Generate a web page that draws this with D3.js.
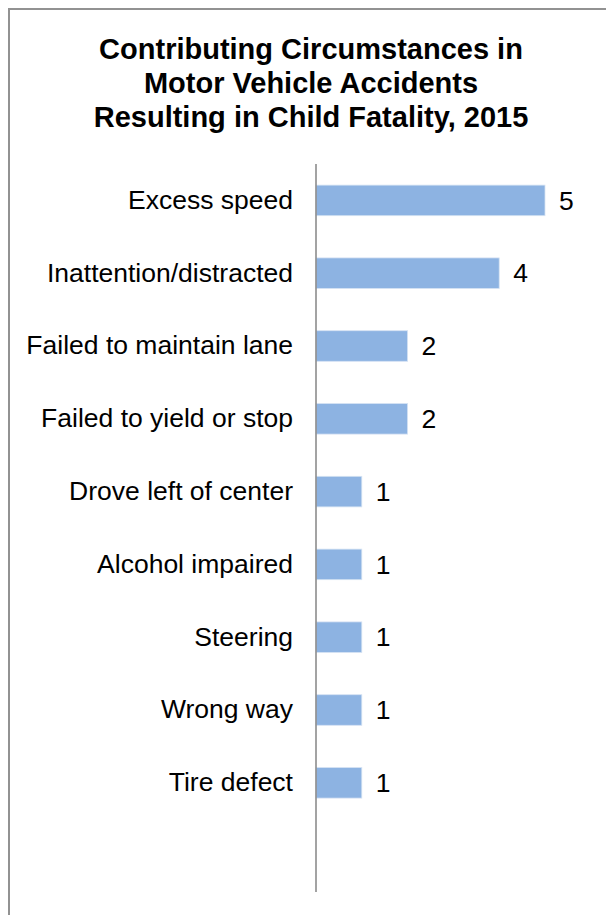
<!DOCTYPE html>
<html>
<head>
<meta charset="utf-8">
<script src="https://cdn.jsdelivr.net/npm/d3@7"></script>
<style>
  html, body { margin: 0; padding: 0; background: #fff; }
  svg { display: block; font-family: "Liberation Sans", Arial, sans-serif; }
</style>
</head>
<body>
<div id="chart"></div>
<script>
// Contributing circumstances and counts of child fatalities, 2015
const categories = [
  "Excess speed",
  "Inattention/distracted",
  "Failed to maintain lane",
  "Failed to yield or stop",
  "Drove left of center",
  "Alcohol impaired",
  "Steering",
  "Wrong way",
  "Tire defect"
];
const counts = [5, 4, 2, 2, 1, 1, 1, 1, 1];
const titleLines = [
  "Contributing Circumstances in",
  "Motor Vehicle Accidents",
  "Resulting in Child Fatality, 2015"
];

const W = 606, H = 915;
const svg = d3.select("#chart").append("svg")
  .attr("width", W).attr("height", H);

// chart frame (right and bottom edges run past the visible area)
svg.append("rect")
  .attr("x", 9).attr("y", 9)
  .attr("width", 640).attr("height", 940)
  .attr("fill", "#fff")
  .attr("stroke", "#929292")
  .attr("stroke-width", 2);

// title
svg.append("g").selectAll("text")
  .data(titleLines)
  .join("text")
  .attr("x", 311)
  .attr("y", (d, i) => 58.5 + i * 34)
  .attr("text-anchor", "middle")
  .attr("font-size", 29)
  .attr("font-weight", "bold")
  .attr("fill", "#000")
  .text(d => d);

// plot area
const plotTop = 164, step = 72.8, axisBottom = 892;
const x = d3.scaleLinear().domain([0, 5]).range([316, 545]);
const y = d3.scaleBand()
  .domain(categories)
  .range([plotTop, plotTop + step * categories.length])
  .paddingInner(0.58)
  .paddingOuter(0.29);

const rows = categories.map((c, i) => ({ c, v: counts[i] }));

svg.append("g").selectAll("rect")
  .data(rows)
  .join("rect")
  .attr("x", x(0))
  .attr("y", d => y(d.c))
  .attr("width", d => x(d.v) - x(0))
  .attr("height", y.bandwidth())
  .attr("fill", "#8DB3E2")
  .attr("stroke", "#d6e3f3")
  .attr("stroke-width", 0.8);

// category axis
const yAxis = d3.axisLeft(y).tickSize(0).tickPadding(23);
const ag = svg.append("g").attr("transform", `translate(${x(0)},0)`).call(yAxis);
ag.select(".domain").remove();
ag.selectAll("text")
  .attr("font-size", 26.5)
  .attr("font-family", "Liberation Sans, Arial, sans-serif")
  .attr("fill", "#000");

svg.append("line")
  .attr("x1", x(0)).attr("x2", x(0))
  .attr("y1", plotTop).attr("y2", axisBottom)
  .attr("stroke", "#8c8c8c")
  .attr("stroke-width", 1.6);

// value labels
svg.append("g").selectAll("text")
  .data(rows)
  .join("text")
  .attr("x", d => x(d.v) + 14)
  .attr("y", d => y(d.c) + y.bandwidth() / 2)
  .attr("dy", "0.35em")
  .attr("font-size", 26.5)
  .attr("fill", "#000")
  .text(d => d.v);
</script>
</body>
</html>
